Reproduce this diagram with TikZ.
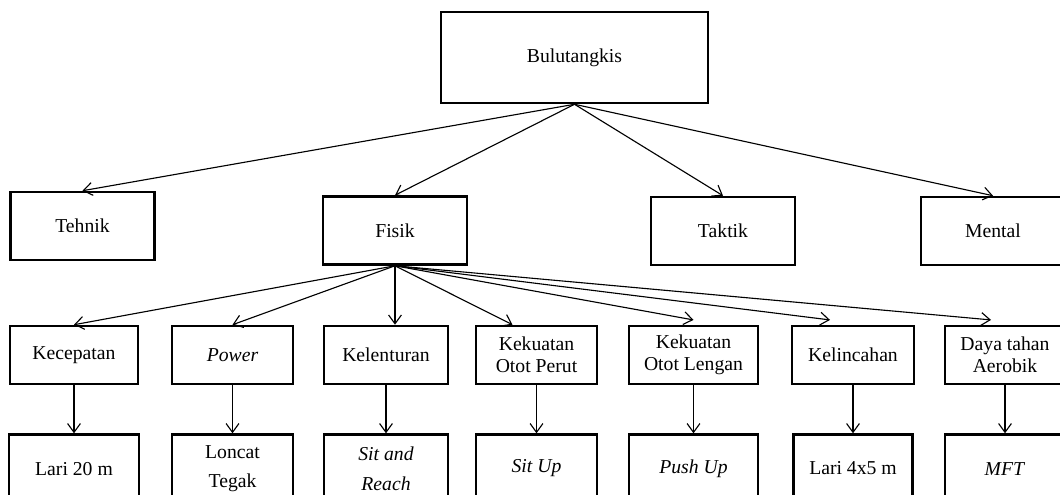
\documentclass[tikz,border=0pt]{standalone}
\usepackage{fontspec}
\setmainfont{Liberation Serif}
\usetikzlibrary{arrows.meta, positioning}

\begin{document}
\begin{tikzpicture}[
    x=0.025cm, y=-0.025cm,
    node distance=1.2cm,
    box/.style={
        rectangle, draw, line width=1.8pt, align=center,
        font=\fontsize{14}{16}\selectfont
    },
    aspect/.style={box, minimum width=3.6cm, minimum height=1.7cm},
    item/.style={box, minimum height=1.45cm},
    test/.style={box, minimum height=1.7cm, font=\fontsize{14}{21}\selectfont},
    >={Straight Barb[length=2.2mm,width=3.2mm]},
    link/.style={->, line width=0.8pt}
]
\path[use as bounding box, clip] (0,0) rectangle (1060,494);

\node[box, minimum width=6.675cm, minimum height=2.275cm] (bulu) at (574.5,57.5) {Bulutangkis};
\node[aspect] (tehnik) at (82.5,226) {Tehnik};
\node[aspect] (fisik) at (395,230.5) {Fisik};
\node[aspect] (taktik) at (723,231) {Taktik};
\node[aspect] (mental) at (993,231) {Mental};

\node[item, minimum width=3.2cm] (kec) at (74,355) {Kecepatan};
\node[item, minimum width=3.025cm] (pow) at (232.5,355) {\textit{Power}};
\node[item, minimum width=3.1cm] (kel) at (386,355) {Kelenturan};
\node[item, minimum width=3.025cm] (perut) at (536.5,355) {Kekuatan\\Otot Perut};
\node[item, minimum width=3.225cm] (lengan) at (693.5,355) {Kekuatan\\Otot Lengan};
\node[item, minimum width=3.05cm] (lincah) at (853,355) {Kelincahan};
\node[item, minimum width=3cm] (daya) at (1005,355) {Daya tahan\\Aerobik};

\node[test, minimum width=3.25cm, below=of kec] (lari20) {Lari 20 m};
\node[test, minimum width=3.025cm, below=of pow] (loncat) {Loncat\\Tegak};
\node[test, minimum width=3.1cm, below=of kel] (sitreach) {\textit{Sit and}\\\textit{Reach}};
\node[test, minimum width=3.025cm, below=of perut] (situp) {\textit{Sit Up}};
\node[test, minimum width=3.225cm, below=of lengan] (pushup) {\textit{Push Up}};
\node[test, minimum width=2.975cm, below=of lincah] (lari4x5) {Lari 4x5 m};
\node[test, minimum width=3cm, below=of daya] (mft) {\textit{MFT}};

\draw[link] (bulu.south) -- (tehnik.north);
\draw[link] (bulu.south) -- (fisik.north);
\draw[link] (bulu.south) -- (taktik.north);
\draw[link] (bulu.south) -- (mental.north);

\draw[link] (fisik.south) -- (kec.north);
\draw[link] (fisik.south) -- (pow.north);
\draw[link] (fisik.south) -- (fisik.south |- kel.north);
\draw[link] (fisik.south) -- ([xshift=-0.6cm]perut.north);
\draw[link] (fisik.south) -- ([yshift=0.12cm]lengan.north);
\draw[link] (fisik.south) -- ([xshift=-0.575cm, yshift=0.12cm]lincah.north);
\draw[link] (fisik.south) -- ([xshift=-0.35cm, yshift=0.12cm]daya.north);

\draw[link] (kec) -- (lari20);
\draw[link] (pow) -- (loncat);
\draw[link] (kel) -- (sitreach);
\draw[link] (perut) -- (situp);
\draw[link] (lengan) -- (pushup);
\draw[link] (lincah) -- (lari4x5);
\draw[link] (daya) -- (mft);

\end{tikzpicture}
\end{document}
